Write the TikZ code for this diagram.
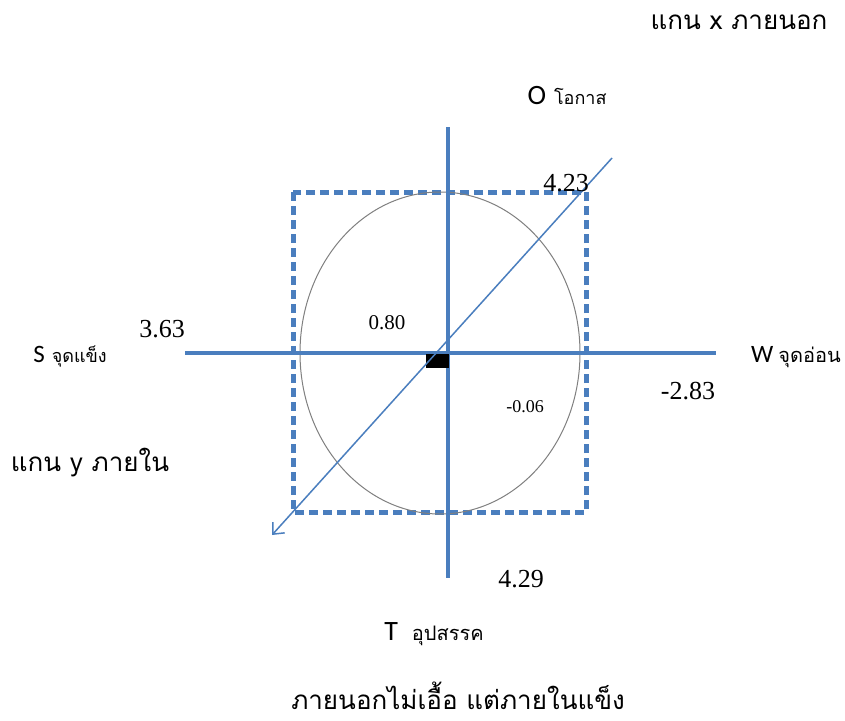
\documentclass[tikz,border=0pt]{standalone}
\usepackage{fontspec}
\setmainfont{Liberation Serif}
\newfontfamily\thai[Script=Thai]{Loma}
\newfontfamily\lat{Carlito}
\usetikzlibrary{arrows.meta}
\definecolor{axblue}{RGB}{74,126,190}
\definecolor{ellgray}{RGB}{128,128,128}
\tikzset{
  axis/.style={draw=axblue,line width=4pt},
  dashbox/.style={draw=axblue,line width=5pt,dash pattern=on 9pt off 5pt},
  diag/.style={draw=axblue,line width=1.5pt,-{Straight Barb[length=9pt,width=16pt,line width=1.5pt]}},
  num/.style={inner sep=0pt,font=\fontsize{26}{30}\selectfont},
  tlab/.style={inner sep=0pt,font=\thai\fontsize{26}{30}\selectfont},
}
\begin{document}
\begin{tikzpicture}[x=1pt,y=-1pt]
\path[use as bounding box,fill=white] (0,0) rectangle (845,720);
% axes
\coordinate (vtop) at (448,127);
\coordinate (vbot) at (448,578);
\coordinate (hl) at (185,353);
\coordinate (hr) at (716,353);
% dashed box
\coordinate (b1) at (293,192);
\coordinate (b2) at (586,512);
\draw[dashbox] (b1) rectangle (b2);
% ellipse
\coordinate (ec) at (440,353);
\draw[ellgray,line width=1pt] (ec) ellipse [x radius=140,y radius=161];
\draw[axis] (hl) -- (hr);
\draw[axis] (vtop) -- (vbot);
% black marker
\fill[black] (426,354) rectangle (449,368);
% diagonal arrow
\coordinate (dstart) at (612,158);
\coordinate (dend) at (272,535);
\draw[diag] (dstart) -- (dend);
% labels
\node[inner sep=0pt] (O) at (567,96) {{\lat\fontsize{28}{32}\selectfont O}\hspace{8pt}{\thai\fontsize{18}{22}\selectfont โอกาส}};
\node[num] (n423) at (566,183) {4.23};
\node[num] (n363) at (162,329) {3.63};
\node[inner sep=0pt] (S) at (70,357) {{\lat\fontsize{25}{28}\selectfont S}\hspace{7pt}{\thai\fontsize{18}{22}\selectfont จุดแข็ง}};
\node[inner sep=0pt,font=\fontsize{21}{24}\selectfont] (n080) at (387,323) {0.80};
\node[inner sep=0pt] (W) at (796,357) {{\lat\fontsize{25}{28}\selectfont W}\hspace{5pt}{\thai\fontsize{20}{24}\selectfont จุดอ่อน}};
\node[num] (n283) at (688,391) {-2.83};
\node[inner sep=0pt,font=\fontsize{18}{21}\selectfont] (n006) at (525,407) {-0.06};
\node[tlab] (yax) at (90,463) {แกน y ภายใน};
\node[num] (n429) at (521,579) {4.29};
\node[inner sep=0pt] (T) at (434,634) {{\lat\fontsize{28}{32}\selectfont T}\hspace{14pt}{\thai\fontsize{20}{24}\selectfont อุปสรรค}};
\node[tlab] (xax) at (739,22) {แกน x ภายนอก};
\node[tlab] (bottom) at (458,696) {ภายนอกไม่เอื้อ แต่ภายในแข็ง};
\end{tikzpicture}
\end{document}
